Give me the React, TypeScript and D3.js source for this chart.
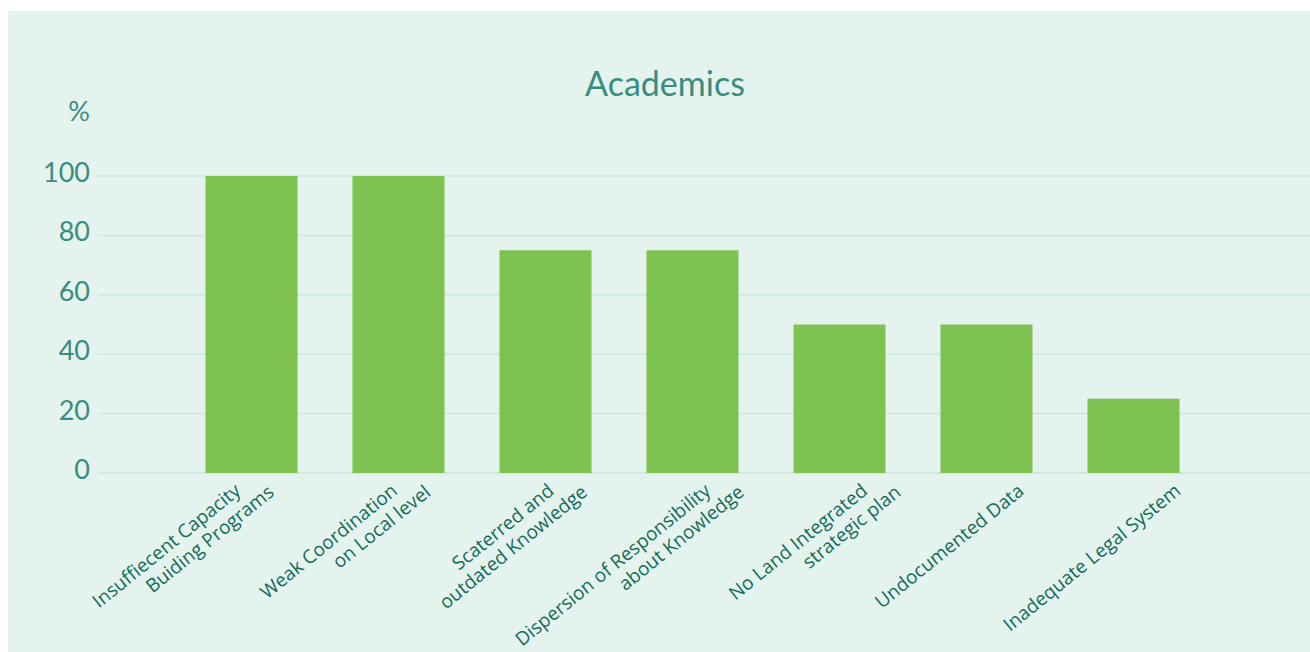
import React, { useEffect, useRef } from 'react';
import * as d3 from 'd3';

const categories = [
  'Insuffiecent Capacity Buiding Programs',
  'Weak Coordination on Local level',
  'Scaterred and outdated Knowledge',
  'Dispersion of Responsibility about Knowledge',
  'No Land Integrated strategic plan',
  'Undocumented Data',
  'Inadequate Legal System',
];
const labelLines = [
  ['Insuffiecent Capacity', 'Buiding Programs'],
  ['Weak Coordination', 'on Local level'],
  ['Scaterred and', 'outdated Knowledge'],
  ['Dispersion of Responsibility', 'about Knowledge'],
  ['No Land Integrated', 'strategic plan'],
  ['Undocumented Data'],
  ['Inadequate Legal System'],
];
const values = [100, 100, 75, 75, 50, 50, 25];
const yTicks = [0, 20, 40, 60, 80, 100];

const W = 1310;
const H = 652;

const App: React.FC = () => {
  const svgRef = useRef<SVGSVGElement>(null);

  useEffect(() => {
    if (!svgRef.current) return;
    document.body.style.margin = '0';
    document.body.style.overflow = 'hidden';

    const svg = d3.select(svgRef.current);
    svg.selectAll('*').remove();

    // panel
    svg.append('rect').attr('x', 8).attr('y', 11).attr('width', W - 8).attr('height', H - 11).attr('fill', '#e4f3ee');

    const y = d3.scaleLinear().domain([0, 100]).range([473, 176]);
    const x = d3.scaleBand().domain(categories).range([178, 1207]).paddingInner(0.374).paddingOuter(0.187);
    // label anchors sit on their own, slightly wider, spacing
    const xl = d3.scalePoint().domain(categories).range([242, 1182]);

    // gridlines
    svg.append('g').selectAll('line').data(yTicks).enter().append('line')
      .attr('x1', 98).attr('x2', W).attr('y1', d => y(d)).attr('y2', d => y(d))
      .attr('stroke', '#cde6de').attr('stroke-width', 1.5);

    const tickFont = 'Lato, sans-serif';
    const teal = '#388d81';

    // tick labels
    svg.append('g').selectAll('text').data(yTicks).enter().append('text')
      .attr('x', 90).attr('y', d => y(d) - 3.5).attr('dy', '0.35em')
      .attr('text-anchor', 'end').attr('fill', teal)
      .attr('font-family', tickFont).attr('font-size', 27)
      .text(d => d);

    svg.append('text').attr('x', 90).attr('y', 112).attr('dy', '0.35em').attr('text-anchor', 'end')
      .attr('fill', teal).attr('font-family', tickFont).attr('font-size', 27)
      .text('%');

    // title
    svg.append('text').attr('x', 665).attr('y', 96).attr('text-anchor', 'middle')
      .attr('fill', teal).attr('font-family', tickFont).attr('font-size', 34)
      .text('Academics');

    // bars
    svg.append('g').selectAll('rect').data(values).enter().append('rect')
      .attr('x', (_, i) => x(categories[i])!)
      .attr('width', x.bandwidth())
      .attr('y', d => y(d))
      .attr('height', d => y(0) - y(d))
      .attr('fill', '#7ec352');

    // category labels, rotated
    const lab = svg.append('g').selectAll('g').data(labelLines).enter().append('g')
      .attr('transform', (_, i) => `translate(${xl(categories[i])},493) rotate(-39)`);
    lab.each(function (lines) {
      const g = d3.select(this);
      lines.forEach((ln, k) => {
        g.append('text').attr('x', k * 25).attr('y', k * 22).attr('text-anchor', 'end')
          .attr('fill', '#136b59').attr('font-family', '"Open Sans", sans-serif').attr('font-size', 19)
          .text(ln);
      });
    });
  }, []);

  return (
    <div style={{ position: 'fixed', left: 0, top: 0, width: W, height: H, background: '#fff' }}>
      <svg ref={svgRef} width={W} height={H}></svg>
    </div>
  );
};

export default App;
